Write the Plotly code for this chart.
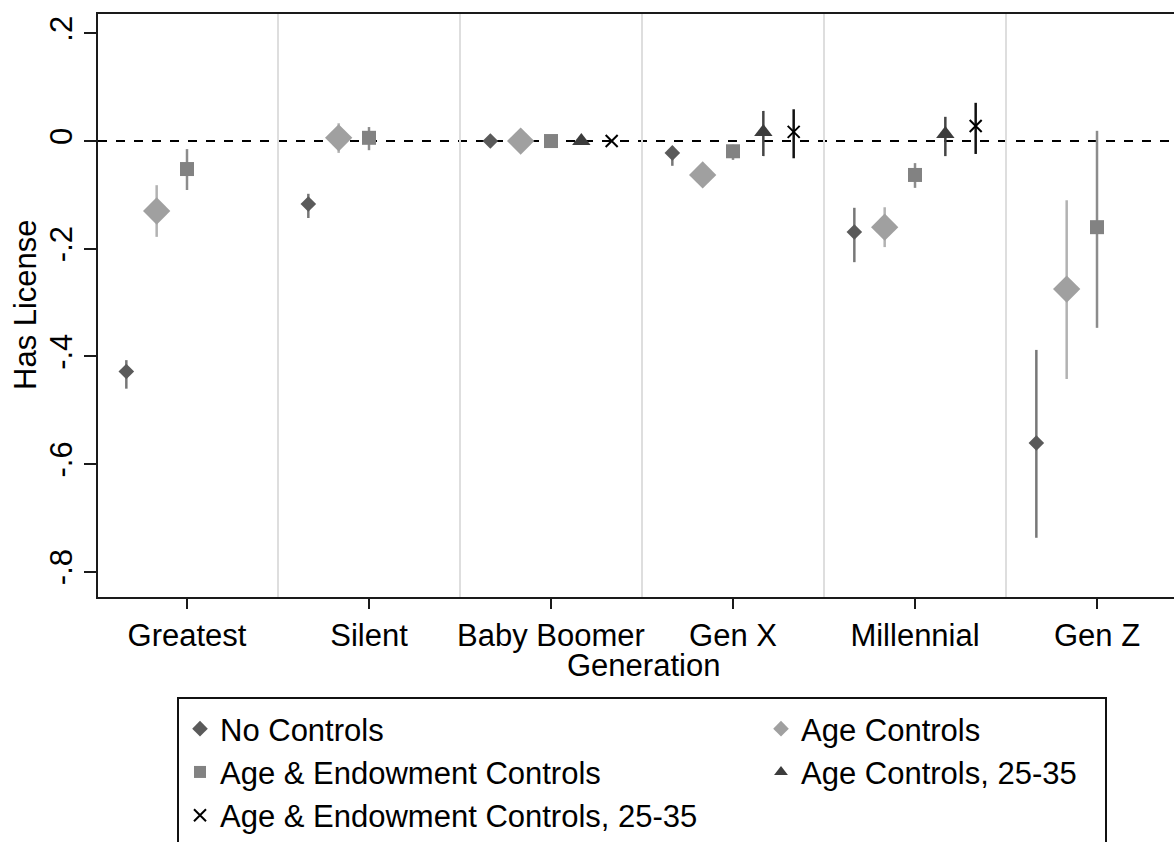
import plotly.graph_objects as go

categories = ["Greatest", "Silent", "Baby Boomer", "Gen X", "Millennial", "Gen Z"]
y_tickvals = [0.2, 0.0, -0.2, -0.4, -0.6, -0.8]
y_ticktext = [".2", "0", "-.2", "-.4", "-.6", "-.8"]

series_names = ["No Controls", "Age Controls", "Age & Endowment Controls",
                "Age Controls, 25-35", "Age & Endowment Controls, 25-35"]

no_ctrl = [-0.428, -0.117, 0.0, -0.022, -0.169, -0.561]
no_ctrl_lo = [-0.460, -0.143, 0.0, -0.046, -0.225, -0.737]
no_ctrl_hi = [-0.407, -0.098, 0.0, -0.010, -0.124, -0.388]

age = [-0.130, 0.006, 0.0, -0.063, -0.160, -0.275]
age_lo = [-0.178, -0.022, 0.0, -0.085, -0.197, -0.442]
age_hi = [-0.082, 0.033, 0.0, -0.048, -0.123, -0.110]

endow = [-0.052, 0.006, 0.0, -0.019, -0.063, -0.160]
endow_lo = [-0.091, -0.017, 0.0, -0.035, -0.087, -0.347]
endow_hi = [-0.015, 0.026, 0.0, -0.007, -0.041, 0.019]

age2535 = [None, None, 0.0, 0.017, 0.013, None]
age2535_lo = [None, None, 0.0, -0.028, -0.028, None]
age2535_hi = [None, None, 0.0, 0.056, 0.045, None]

endow2535 = [None, None, 0.0, 0.017, 0.028, None]
endow2535_lo = [None, None, 0.0, -0.032, -0.024, None]
endow2535_hi = [None, None, 0.0, 0.059, 0.071, None]

values = [no_ctrl, age, endow, age2535, endow2535]
lows = [no_ctrl_lo, age_lo, endow_lo, age2535_lo, endow2535_lo]
highs = [no_ctrl_hi, age_hi, endow_hi, age2535_hi, endow2535_hi]

offsets = [-1/3, -1/6, 0.0, 1/6, 1/3]
symbols = ["diamond", "diamond", "square", "triangle-up", "x-thin"]
sizes = [12, 21, 14, 16, 12]
mcolors = ["#5a5a5a", "#a0a0a0", "#828282", "#3c3c3c", "#000000"]
ecolors = ["#777777", "#b2b2b2", "#8c8c8c", "#444444", "#111111"]
legend_ids = ["legend", "legend2", "legend", "legend2", "legend"]

FONT = "Arial, Liberation Sans, sans-serif"
FS = 31

fig = go.Figure()
for k in range(5):
    xs, ys, ep, em = [], [], [], []
    for i, v in enumerate(values[k]):
        if v is None:
            continue
        xs.append(i + offsets[k])
        ys.append(v)
        ep.append(highs[k][i] - v)
        em.append(v - lows[k][i])
    marker = dict(symbol=symbols[k], size=sizes[k], color=mcolors[k])
    if symbols[k] == "x-thin":
        marker["line"] = dict(color=mcolors[k], width=2)
    fig.add_trace(go.Scatter(
        x=xs, y=ys, mode="markers", name=series_names[k],
        marker=marker, legend=legend_ids[k],
        error_y=dict(type="data", symmetric=False, array=ep, arrayminus=em,
                     width=0, thickness=2.5, color=ecolors[k]),
    ))

# zero reference line
fig.add_shape(type="line", xref="paper", x0=0, x1=1, yref="y", y0=0, y1=0,
              line=dict(color="black", width=2, dash="dash"), layer="below")

L, T, B, R = 98, 14, 597, 1174
PW, PH = R - L, B - T
def px_x(p):
    return (p - L) / PW
def px_y(p):
    return (B - p) / PH

# legend box
fig.add_shape(type="rect", xref="paper", yref="paper",
              x0=px_x(178), x1=px_x(1106), y0=px_y(698), y1=px_y(870),
              line=dict(color="#111111", width=2), fillcolor="rgba(0,0,0,0)")

fig.add_annotation(text="Generation", xref="paper", yref="paper",
                   x=px_x(643), y=px_y(665), showarrow=False,
                   font=dict(family=FONT, size=FS, color="black"),
                   xanchor="center", yanchor="middle")
fig.add_annotation(text="Has License", xref="paper", yref="paper",
                   x=px_x(25), y=px_y(305), showarrow=False, textangle=-90,
                   font=dict(family=FONT, size=FS, color="black"),
                   xanchor="center", yanchor="middle")

fig.update_layout(
    width=1174, height=842,
    margin=dict(l=L, r=1174 - R, t=T, b=842 - B, pad=0),
    plot_bgcolor="white", paper_bgcolor="white",
    font=dict(family=FONT, size=FS, color="black"),
    showlegend=True,
    legend=dict(x=px_x(180), y=px_y(702), xanchor="left", yanchor="top",
                orientation="v", itemsizing="constant", bgcolor="rgba(0,0,0,0)",
                font=dict(family=FONT, size=FS, color="black")),
    legend2=dict(x=px_x(761), y=px_y(702), xanchor="left", yanchor="top",
                 orientation="v", itemsizing="constant", bgcolor="rgba(0,0,0,0)",
                 font=dict(family=FONT, size=FS, color="black")),
    xaxis=dict(range=[-0.489, 5.423], tickmode="array",
               tickvals=list(range(len(categories))), ticktext=categories,
               showgrid=False, zeroline=False,
               showline=True, linecolor="#1a1a1a", linewidth=2, mirror=True,
               ticks="outside", ticklen=10, tickwidth=2, tickcolor="#1a1a1a",
               tickfont=dict(family=FONT, size=FS, color="black"),
               minor=dict(tickvals=[0.5, 1.5, 2.5, 3.5, 4.5], showgrid=True,
                          gridcolor="#dedede", gridwidth=2, ticks="")),
    yaxis=dict(range=[-0.847, 0.236], tickmode="array",
               tickvals=y_tickvals, ticktext=y_ticktext, tickangle=-90,
               showgrid=False, zeroline=False,
               showline=True, linecolor="#1a1a1a", linewidth=2,
               ticks="outside", ticklen=12, tickwidth=2, tickcolor="#1a1a1a",
               tickfont=dict(family=FONT, size=FS, color="black")),
)

fig.write_html("out.html", config={"displayModeBar": False},
               post_script="document.body.style.margin='0';document.body.style.overflow='hidden';")
